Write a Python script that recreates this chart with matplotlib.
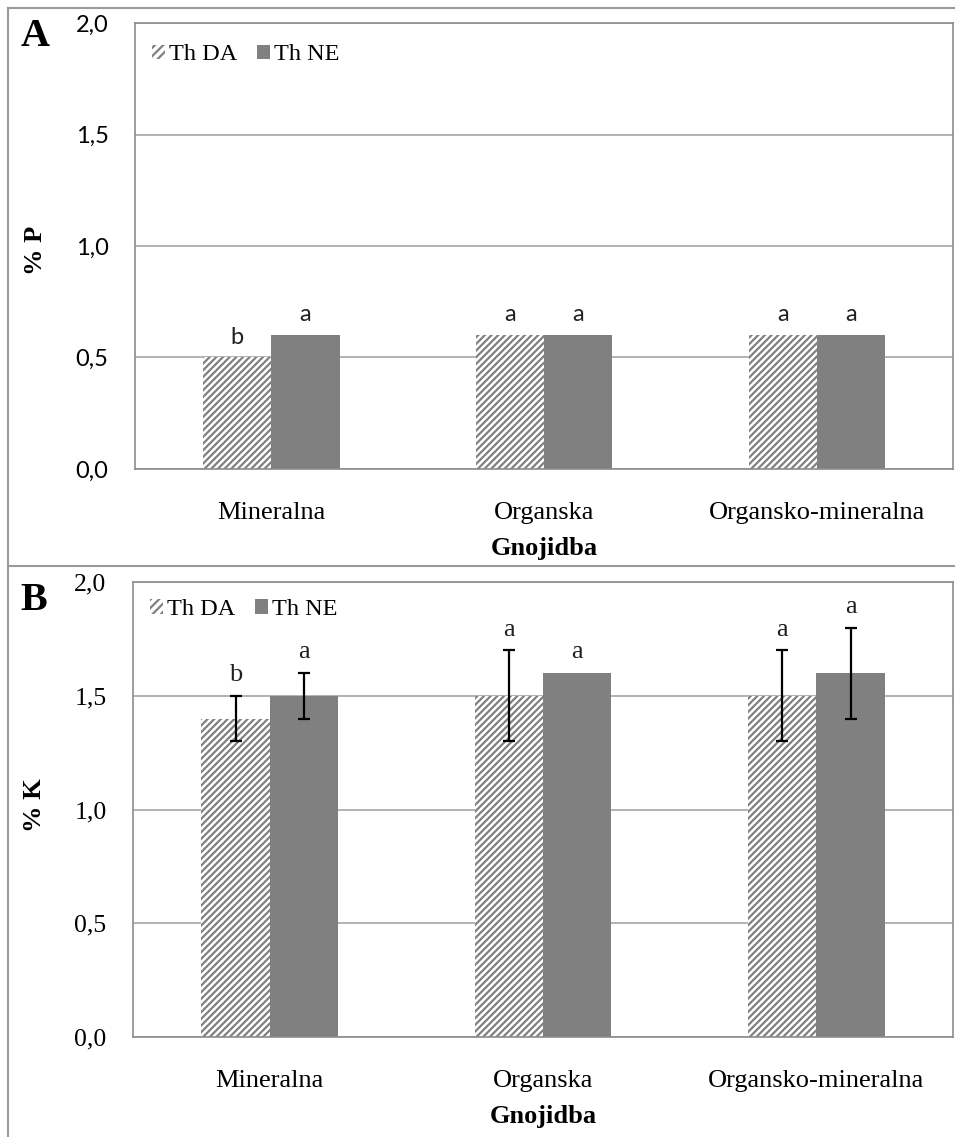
import numpy as np
import matplotlib.pyplot as plt
from matplotlib.patches import Patch
from matplotlib.lines import Line2D

# -----------------------------
# Data
# -----------------------------
categories = ["Mineralna", "Organska", "Organsko-mineralna"]
series_names = ["Th DA", "Th NE"]
yticks = [0.0, 0.5, 1.0, 1.5, 2.0]

p_da = [0.5, 0.6, 0.6]
p_ne = [0.6, 0.6, 0.6]
p_letters_da = ["b", "a", "a"]
p_letters_ne = ["a", "a", "a"]

k_da = [1.4, 1.5, 1.5]
k_ne = [1.5, 1.6, 1.6]
k_err_da = [0.1, 0.2, 0.2]
k_err_ne = [0.1, None, 0.2]
k_letters_da = ["b", "a", "a"]
k_letters_ne = ["a", "a", "a"]

SERIF = "Liberation Serif"
SANS = "Lato"
BAR_GREY = "#808080"
GRID_GREY = "#a6a6a6"
HATCH = "/////"

W, H = 955, 1137


def px_rect(left, top, right, bottom):
    return [left / W, 1 - bottom / H, (right - left) / W, (bottom - top) / H]


def fmt(v):
    return f"{v:.1f}".replace(".", ",")


def draw_panel(ax, da, ne, err_da, err_ne, lets_da, lets_ne, tick_font, tick_size,
               letter_font, letter_size, ylabel, legend_y):
    x = np.arange(len(categories))
    w = 0.25
    ax.bar(x - w / 2, da, w, color="white", edgecolor=BAR_GREY, hatch=HATCH,
           linewidth=0, zorder=2)
    ax.bar(x + w / 2, ne, w, color=BAR_GREY, linewidth=0, zorder=2)

    tops_da = list(da)
    tops_ne = list(ne)
    for xs, vals, errs, tops in ((x - w / 2, da, err_da, tops_da),
                                 (x + w / 2, ne, err_ne, tops_ne)):
        if errs is None:
            continue
        for i, e in enumerate(errs):
            if e is None:
                continue
            ax.errorbar(xs[i], vals[i], yerr=e, fmt="none", ecolor="black",
                        elinewidth=1.6, capsize=4.5, capthick=1.6, zorder=3)
            tops[i] = vals[i] + e

    for xs, tops, lets in ((x - w / 2, tops_da, lets_da), (x + w / 2, tops_ne, lets_ne)):
        for xi, t, s in zip(xs, tops, lets):
            ax.annotate(s, (xi, t), xytext=(0, 7), textcoords="offset points",
                        ha="center", va="bottom", fontsize=letter_size,
                        family=letter_font, color="#202020")

    ax.set_xlim(-0.5, len(categories) - 0.5)
    ax.set_ylim(0, 2.0)
    ax.set_yticks(yticks)
    ax.set_yticklabels([fmt(v) for v in yticks], family=tick_font, fontsize=tick_size)
    ax.set_xticks(x)
    ax.set_xticklabels(categories, family=SERIF, fontsize=19)
    ax.tick_params(axis="both", length=0)
    ax.tick_params(axis="y", pad=19)
    ax.tick_params(axis="x", pad=24)
    ax.yaxis.grid(True, color=GRID_GREY, linewidth=1.2, zorder=0)
    ax.set_axisbelow(True)
    for sp in ax.spines.values():
        sp.set_color("#8c8c8c")
        sp.set_linewidth(1.2)

    ax.set_xlabel("Gnojidba", family=SERIF, fontsize=19, fontweight="bold", labelpad=9)
    ax.set_ylabel(ylabel, family=SERIF, fontsize=19, fontweight="bold")

    handles = [Patch(facecolor="white", edgecolor=BAR_GREY, hatch="////", linewidth=0),
               Patch(facecolor=BAR_GREY, linewidth=0)]
    ax.legend(handles, series_names, loc="upper left", bbox_to_anchor=(0.0, legend_y),
              frameon=False, ncol=2, prop={"family": SERIF, "size": 17.5},
              handlelength=0.55, handleheight=0.55, handletextpad=0.15,
              columnspacing=0.8, borderaxespad=0.3)


plt.rcParams["hatch.linewidth"] = 1.6

fig = plt.figure(figsize=(W / 100, H / 100), dpi=100)

ax_a = fig.add_axes(px_rect(135, 23, 953, 469))
draw_panel(ax_a, p_da, p_ne, None, None, p_letters_da, p_letters_ne,
           SANS, 17, SANS, 17, "% P", 0.99)
ax_a.yaxis.set_label_coords(-0.108, 0.49)

ax_b = fig.add_axes(px_rect(133, 582, 953, 1037))
draw_panel(ax_b, k_da, k_ne, k_err_da, k_err_ne, k_letters_da, k_letters_ne,
           SERIF, 18.5, SERIF, 19, "% K", 1.0)
ax_b.yaxis.set_label_coords(-0.106, 0.51)

# panel letters
fig.text(35 / W, 1 - 37 / H, "A", family=SERIF, fontsize=29, fontweight="bold",
         ha="center", va="center")
fig.text(34 / W, 1 - 601 / H, "B", family=SERIF, fontsize=29, fontweight="bold",
         ha="center", va="center")

# outer frames around the two panels
frame_kw = dict(color="#9a9a9a", linewidth=1.5, transform=fig.transFigure)
fig.add_artist(Line2D([8 / W, 8 / W], [0, 1 - 8 / H], **frame_kw))
fig.add_artist(Line2D([8 / W, 1], [1 - 8 / H, 1 - 8 / H], **frame_kw))
fig.add_artist(Line2D([8 / W, 1], [1 - 566 / H, 1 - 566 / H], **frame_kw))

fig.savefig("out.png", dpi=100)
